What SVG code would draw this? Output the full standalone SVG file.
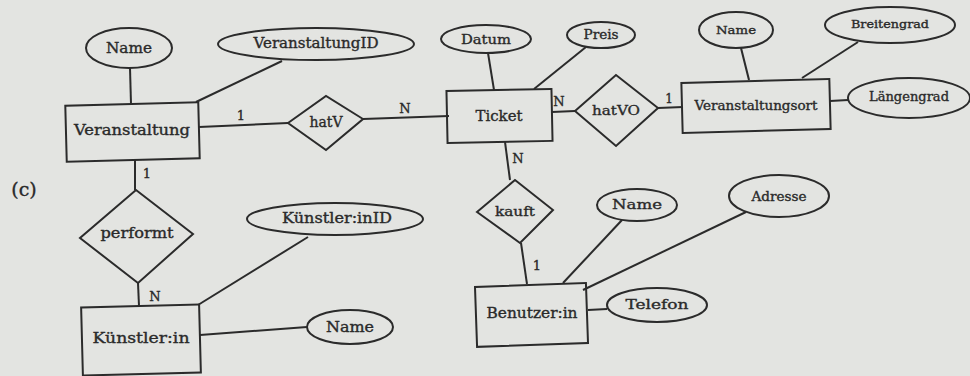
<svg xmlns="http://www.w3.org/2000/svg" width="970" height="376" viewBox="0 0 970 376">
<style>
.bg{fill:#e3e4e1}
.s{fill:none;stroke:#2b2b2b;stroke-width:2}
.l{stroke:#2b2b2b;stroke-width:2;fill:none}
text{font-family:"DejaVu Serif","Liberation Serif",serif;fill:#2a2a2a;stroke:#2a2a2a;stroke-width:0.35;text-anchor:middle;dominant-baseline:central}
</style>
<rect class="bg" x="0" y="0" width="970" height="376"/>
<text x="24" y="189" style="font-size:19px">(c)</text>
<g id="connectors">
<line class="l" x1="130" y1="68" x2="131" y2="104"/>
<line class="l" x1="282" y1="61" x2="196" y2="102"/>
<line class="l" x1="199" y1="127" x2="288" y2="123"/>
<line class="l" x1="363" y1="119" x2="449" y2="116"/>
<line class="l" x1="488" y1="53" x2="494" y2="90"/>
<line class="l" x1="586" y1="47" x2="534" y2="89"/>
<line class="l" x1="552" y1="112" x2="575" y2="111"/>
<line class="l" x1="658" y1="108" x2="683" y2="107"/>
<line class="l" x1="741" y1="48" x2="749" y2="80"/>
<line class="l" x1="858" y1="42" x2="802" y2="78"/>
<line class="l" x1="830" y1="101" x2="848" y2="100"/>
<line class="l" x1="135" y1="159" x2="135" y2="190"/>
<line class="l" x1="138" y1="283" x2="139" y2="306"/>
<line class="l" x1="308" y1="237" x2="198" y2="305"/>
<line class="l" x1="200" y1="335" x2="307" y2="327"/>
<line class="l" x1="505" y1="142" x2="510" y2="180"/>
<line class="l" x1="521" y1="243" x2="527" y2="284"/>
<line class="l" x1="622" y1="220" x2="563" y2="283"/>
<line class="l" x1="746" y1="212" x2="583" y2="290"/>
<line class="l" x1="588" y1="310" x2="607" y2="309"/>
<text x="241" y="115" style="font-size:13px">1</text>
<text x="405" y="108" style="font-size:13px">N</text>
<text x="559" y="101" style="font-size:13px">N</text>
<text x="669" y="99" style="font-size:12px">1</text>
<text x="147" y="173" style="font-size:13px">1</text>
<text x="155" y="296" style="font-size:13px">N</text>
<text x="518" y="158" style="font-size:13px">N</text>
<text x="537" y="265" style="font-size:13px">1</text>
</g>
<g id="veranstaltung">
<rect class="s" x="66" y="104" width="133" height="56" transform="rotate(-1.5 132 132)"/>
<text x="132" y="130" style="font-size:14px" textLength="116" lengthAdjust="spacingAndGlyphs">Veranstaltung</text>
</g>
<g id="v-name">
<ellipse class="s" cx="129" cy="48" rx="43" ry="20"/>
<text x="129" y="48" style="font-size:14px" textLength="46" lengthAdjust="spacingAndGlyphs">Name</text>
</g>
<g id="v-id">
<ellipse class="s" cx="316" cy="44" rx="98" ry="16"/>
<text x="316" y="43" style="font-size:14px" textLength="125" lengthAdjust="spacingAndGlyphs">VeranstaltungID</text>
</g>
<g id="hatV">
<polygon class="s" points="288,123 326,96 363,119 326,150"/>
<text x="326" y="122" style="font-size:14px">hatV</text>
</g>
<g id="ticket">
<rect class="s" x="447" y="90" width="105" height="52" transform="rotate(-1.2 499 116)"/>
<text x="499" y="116" style="font-size:14px" textLength="47" lengthAdjust="spacingAndGlyphs">Ticket</text>
</g>
<g id="datum">
<ellipse class="s" cx="486" cy="39" rx="45" ry="14"/>
<text x="486" y="39" style="font-size:13px" textLength="50" lengthAdjust="spacingAndGlyphs">Datum</text>
</g>
<g id="preis">
<ellipse class="s" cx="601" cy="35" rx="34" ry="13"/>
<text x="601" y="35" style="font-size:12px" textLength="35" lengthAdjust="spacingAndGlyphs">Preis</text>
</g>
<g id="hatVO">
<polygon class="s" points="575,111 616,75 658,108 616,146"/>
<text x="616" y="110" style="font-size:13px" textLength="48" lengthAdjust="spacingAndGlyphs">hatVO</text>
</g>
<g id="veranstaltungsort">
<rect class="s" x="682" y="81" width="148" height="50" transform="rotate(-1.5 756 106)"/>
<text x="756" y="106" style="font-size:12px" textLength="123" lengthAdjust="spacingAndGlyphs">Veranstaltungsort</text>
</g>
<g id="o-name">
<ellipse class="s" cx="736" cy="30" rx="37" ry="18"/>
<text x="736" y="30" style="font-size:11px" textLength="40" lengthAdjust="spacingAndGlyphs">Name</text>
</g>
<g id="breitengrad">
<ellipse class="s" cx="890" cy="25" rx="65" ry="18"/>
<text x="890" y="24" style="font-size:11px" textLength="78" lengthAdjust="spacingAndGlyphs">Breitengrad</text>
</g>
<g id="laengengrad">
<ellipse class="s" cx="909" cy="98" rx="61" ry="20"/>
<text x="909" y="97" style="font-size:12px" textLength="80" lengthAdjust="spacingAndGlyphs">Längengrad</text>
</g>
<g id="performt">
<polygon class="s" points="136,190 193,234 138,283 80,238"/>
<text x="137" y="233" style="font-size:14px" textLength="73" lengthAdjust="spacingAndGlyphs">performt</text>
</g>
<g id="kuenstlerin">
<rect class="s" x="82" y="306" width="118" height="68" transform="rotate(-1.5 141 340)"/>
<text x="141" y="338" style="font-size:15px" textLength="97" lengthAdjust="spacingAndGlyphs">Künstler:in</text>
</g>
<g id="kuenstlerinID">
<ellipse class="s" cx="335" cy="219" rx="88" ry="16"/>
<text x="337" y="218" style="font-size:14px" textLength="110" lengthAdjust="spacingAndGlyphs">Künstler:inID</text>
</g>
<g id="k-name">
<ellipse class="s" cx="350" cy="327" rx="43" ry="17"/>
<text x="350" y="327" style="font-size:14px" textLength="48" lengthAdjust="spacingAndGlyphs">Name</text>
</g>
<g id="kauft">
<polygon class="s" points="477,212 515,180 553,210 520,243"/>
<text x="515" y="211" style="font-size:13px" textLength="40" lengthAdjust="spacingAndGlyphs">kauft</text>
</g>
<g id="benutzerin">
<rect class="s" x="476" y="285" width="111" height="60" transform="rotate(-2 531 315)"/>
<text x="532" y="313" style="font-size:14px" textLength="91" lengthAdjust="spacingAndGlyphs">Benutzer:in</text>
</g>
<g id="b-name">
<ellipse class="s" cx="637" cy="205" rx="40" ry="16"/>
<text x="637" y="204" style="font-size:13px" textLength="50" lengthAdjust="spacingAndGlyphs">Name</text>
</g>
<g id="adresse">
<ellipse class="s" cx="779" cy="196" rx="50" ry="21"/>
<text x="779" y="197" style="font-size:12px" textLength="55" lengthAdjust="spacingAndGlyphs">Adresse</text>
</g>
<g id="telefon">
<ellipse class="s" cx="657" cy="305" rx="50" ry="17"/>
<text x="657" y="304" style="font-size:13px" textLength="63" lengthAdjust="spacingAndGlyphs">Telefon</text>
</g>
</svg>
